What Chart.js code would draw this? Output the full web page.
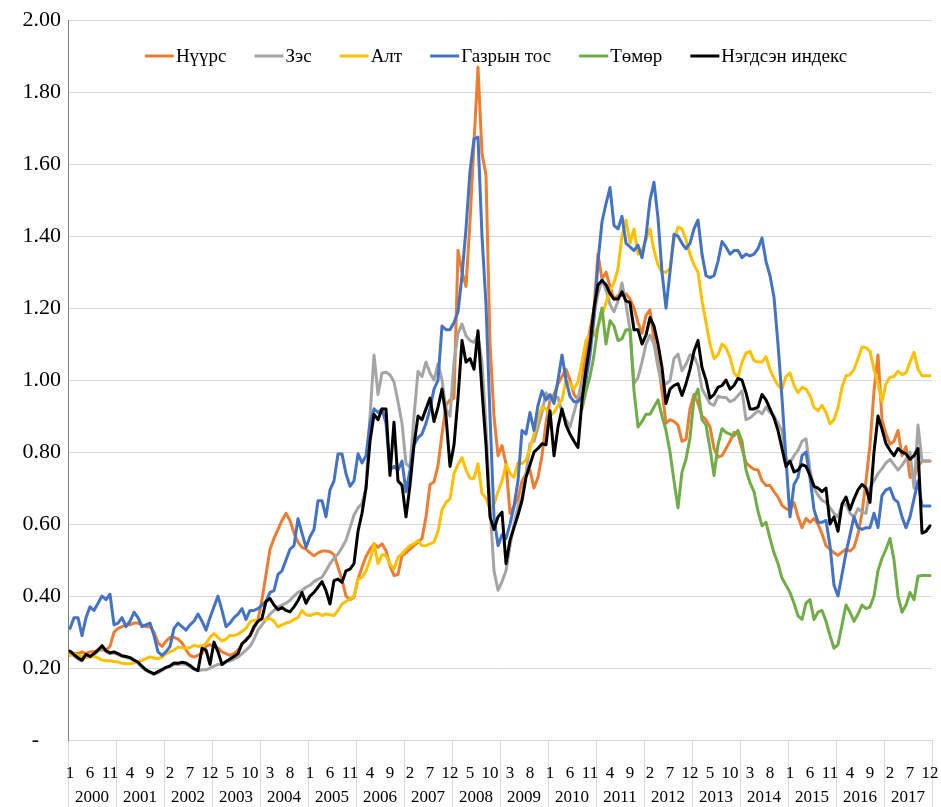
<!DOCTYPE html>
<html>
<head>
<meta charset="utf-8">
<script src="https://cdn.jsdelivr.net/npm/chart.js@4.4.1/dist/chart.umd.min.js"></script>
<style>
  html, body { margin: 0; padding: 0; background: #fff; }
  #wrap { width: 941px; height: 807px; position: relative; }
</style>
</head>
<body>
<div id="wrap"><canvas id="chart"></canvas></div>
<script>
// monthly price indices, Jan 2000 - Dec 2017
const years = ['2000', '2001', '2002', '2003', '2004', '2005', '2006', '2007', '2008',
  '2009', '2010', '2011', '2012', '2013', '2014', '2015', '2016', '2017'];
const monthNums = [1, 2, 3, 4, 5, 6, 7, 8, 9, 10, 11, 12];
const yTicks = [0, 0.2, 0.4, 0.6, 0.8, 1.0, 1.2, 1.4, 1.6, 1.8, 2.0];

const coal = [
  0.245, 0.24, 0.24, 0.245, 0.24, 0.245, 0.245, 0.25, 0.25, 0.25, 0.26, 0.30,
  0.31, 0.315, 0.32, 0.32, 0.325, 0.325, 0.32, 0.315, 0.315, 0.30, 0.27, 0.26,
  0.275, 0.285, 0.285, 0.28, 0.27, 0.25, 0.235, 0.23, 0.235, 0.24, 0.26, 0.265,
  0.26, 0.255, 0.245, 0.24, 0.235, 0.24, 0.25, 0.265, 0.28, 0.29, 0.31, 0.335,
  0.39, 0.46, 0.53, 0.56, 0.585, 0.61, 0.63, 0.61, 0.575, 0.55, 0.535, 0.53,
  0.52, 0.512, 0.52, 0.525, 0.525, 0.523, 0.515, 0.48, 0.445, 0.40, 0.39, 0.397,
  0.447, 0.48, 0.51, 0.53, 0.545, 0.535, 0.545, 0.526, 0.484, 0.457, 0.46, 0.512,
  0.52, 0.53, 0.54, 0.55, 0.56, 0.62, 0.71, 0.717, 0.763, 0.85, 0.93, 0.945,
  0.95, 1.36, 1.30, 1.26, 1.44, 1.66, 1.87, 1.63, 1.57, 1.10, 0.90, 0.79,
  0.818, 0.767, 0.63, 0.65, 0.67, 0.72, 0.74, 0.75, 0.70, 0.73, 0.79, 0.88,
  0.945, 0.96, 0.99, 1.01, 1.03, 1.00, 0.96, 0.945, 1.00, 1.08, 1.14, 1.20,
  1.35, 1.28, 1.30, 1.26, 1.225, 1.235, 1.235, 1.24, 1.225, 1.20, 1.16, 1.13,
  1.18, 1.195, 1.11, 1.05, 0.97, 0.88, 0.89, 0.885, 0.875, 0.83, 0.835, 0.92,
  0.96, 0.935, 0.90, 0.89, 0.87, 0.81, 0.786, 0.79, 0.81, 0.83, 0.855, 0.85,
  0.81, 0.77, 0.76, 0.752, 0.75, 0.72, 0.707, 0.707, 0.69, 0.675, 0.652, 0.643,
  0.638, 0.66, 0.62, 0.59, 0.615, 0.605, 0.615, 0.60, 0.573, 0.54, 0.53, 0.52,
  0.513, 0.522, 0.53, 0.525, 0.535, 0.573, 0.63, 0.72, 0.82, 0.97, 1.07, 0.89,
  0.85, 0.822, 0.83, 0.86, 0.79, 0.815, 0.73, 0.73, 0.76, 0.775, 0.775, 0.775
];

const copper = [
  0.243, 0.233, 0.225, 0.22, 0.235, 0.23, 0.237, 0.247, 0.258, 0.245, 0.24, 0.242,
  0.237, 0.232, 0.23, 0.226, 0.22, 0.213, 0.202, 0.193, 0.187, 0.182, 0.187, 0.193,
  0.2, 0.204, 0.21, 0.21, 0.212, 0.21, 0.204, 0.196, 0.192, 0.195, 0.195, 0.20,
  0.205, 0.21, 0.21, 0.217, 0.22, 0.225, 0.23, 0.24, 0.25, 0.26, 0.28, 0.305,
  0.32, 0.335, 0.35, 0.36, 0.37, 0.375, 0.38, 0.388, 0.40, 0.41, 0.415, 0.425,
  0.43, 0.44, 0.447, 0.452, 0.47, 0.49, 0.505, 0.517, 0.535, 0.555, 0.59, 0.625,
  0.645, 0.657, 0.70, 0.90, 1.07, 0.96, 1.02, 1.022, 1.015, 0.995, 0.94, 0.88,
  0.768, 0.758, 0.90, 1.024, 1.01, 1.05, 1.02, 1.00, 1.045, 1.00, 0.92, 0.90,
  1.05, 1.13, 1.156, 1.123, 1.11, 1.105, 1.125, 1.05, 0.87, 0.65, 0.47, 0.416,
  0.44, 0.47, 0.54, 0.60, 0.65, 0.675, 0.74, 0.823, 0.83, 0.869, 0.91, 0.965,
  0.943, 0.95, 0.952, 0.91, 0.89, 0.87, 0.91, 0.95, 0.99, 1.03, 1.10, 1.18,
  1.24, 1.28, 1.25, 1.21, 1.19, 1.22, 1.27, 1.21, 1.14, 0.99, 1.007, 1.05,
  1.10, 1.125, 1.10, 1.035, 0.99, 0.99, 0.998, 1.06, 1.072, 1.026, 1.044, 1.07,
  1.065, 1.04, 0.975, 0.955, 0.935, 0.93, 0.955, 0.952, 0.952, 0.94, 0.945, 0.957,
  0.97, 0.89, 0.895, 0.905, 0.915, 0.906, 0.925, 0.91, 0.90, 0.88, 0.86, 0.78,
  0.77, 0.79, 0.805, 0.83, 0.837, 0.75, 0.70, 0.68, 0.666, 0.66, 0.645, 0.63,
  0.62, 0.652, 0.655, 0.63, 0.62, 0.643, 0.633, 0.63, 0.70, 0.72, 0.74, 0.754,
  0.77, 0.78, 0.765, 0.75, 0.763, 0.78, 0.80, 0.70, 0.875, 0.775, 0.775, 0.775
];

const gold = [
  0.235, 0.24, 0.235, 0.232, 0.229, 0.232, 0.232, 0.228, 0.222, 0.22, 0.22, 0.218,
  0.217, 0.213, 0.212, 0.212, 0.214, 0.217, 0.221, 0.226, 0.231, 0.228, 0.226, 0.23,
  0.24, 0.245, 0.25, 0.258, 0.256, 0.254, 0.257, 0.263, 0.26, 0.262, 0.268, 0.285,
  0.296, 0.285, 0.275, 0.28, 0.291, 0.29, 0.294, 0.302, 0.31, 0.328, 0.333, 0.333,
  0.335, 0.335, 0.338, 0.33, 0.314, 0.32, 0.325, 0.328, 0.335, 0.34, 0.36, 0.348,
  0.346, 0.35, 0.352, 0.346, 0.35, 0.348, 0.346, 0.36, 0.378, 0.385, 0.392, 0.40,
  0.447, 0.452, 0.47, 0.50, 0.545, 0.49, 0.515, 0.512, 0.489, 0.475, 0.508, 0.517,
  0.53, 0.54, 0.545, 0.554, 0.54, 0.54, 0.545, 0.55, 0.58, 0.64, 0.66, 0.67,
  0.74, 0.765, 0.785, 0.75, 0.727, 0.727, 0.768, 0.685, 0.672, 0.64, 0.655, 0.69,
  0.72, 0.765, 0.74, 0.73, 0.77, 0.768, 0.778, 0.81, 0.85, 0.895, 0.925, 0.92,
  0.90, 0.91, 0.93, 0.945, 1.00, 0.99, 0.975, 0.995, 1.05, 1.11, 1.128, 1.125,
  1.15, 1.18, 1.215, 1.25, 1.27, 1.31, 1.40, 1.445, 1.38, 1.42, 1.35, 1.36,
  1.39, 1.42, 1.36, 1.32, 1.30, 1.30, 1.31, 1.39, 1.425, 1.42, 1.39, 1.35,
  1.32, 1.30, 1.22, 1.16, 1.10, 1.06, 1.07, 1.10, 1.09, 1.063, 1.02, 1.008,
  1.05, 1.075, 1.08, 1.054, 1.05, 1.05, 1.065, 1.03, 1.005, 0.985, 0.975, 1.01,
  1.02, 0.985, 0.965, 0.98, 0.975, 0.957, 0.924, 0.915, 0.93, 0.91, 0.878, 0.89,
  0.924, 0.98, 1.012, 1.015, 1.03, 1.06, 1.092, 1.09, 1.08, 1.03, 0.99, 0.94,
  0.99, 1.008, 1.01, 1.025, 1.015, 1.02, 1.05, 1.077, 1.03, 1.012, 1.012, 1.012
];

const oil = [
  0.31, 0.34, 0.34, 0.29, 0.34, 0.37, 0.36, 0.38, 0.40, 0.39, 0.405, 0.32,
  0.325, 0.34, 0.315, 0.33, 0.355, 0.34, 0.315, 0.32, 0.325, 0.29, 0.245, 0.235,
  0.245, 0.26, 0.31, 0.325, 0.315, 0.305, 0.32, 0.33, 0.35, 0.33, 0.305, 0.34,
  0.37, 0.40, 0.36, 0.315, 0.325, 0.34, 0.35, 0.365, 0.335, 0.36, 0.36, 0.365,
  0.375, 0.385, 0.41, 0.415, 0.46, 0.47, 0.50, 0.53, 0.54, 0.615, 0.575, 0.535,
  0.565, 0.585, 0.665, 0.665, 0.62, 0.695, 0.72, 0.795, 0.795, 0.74, 0.705, 0.72,
  0.795, 0.77, 0.79, 0.88, 0.92, 0.91, 0.92, 0.88, 0.75, 0.76, 0.75, 0.775,
  0.69, 0.75, 0.82, 0.84, 0.85, 0.88, 0.92, 0.975, 1.00, 1.15, 1.14, 1.14,
  1.16, 1.19, 1.29, 1.42, 1.58, 1.67, 1.675, 1.40, 1.21, 0.90, 0.62, 0.54,
  0.57, 0.56, 0.60, 0.65, 0.72, 0.86, 0.85, 0.91, 0.86, 0.93, 0.97, 0.945,
  0.96, 0.935, 1.00, 1.07, 1.00, 0.955, 0.94, 0.94, 0.955, 1.00, 1.07, 1.17,
  1.33, 1.44, 1.49, 1.535, 1.43, 1.42, 1.455, 1.38, 1.37, 1.36, 1.375, 1.34,
  1.40, 1.50, 1.55, 1.45, 1.30, 1.20, 1.30, 1.405, 1.40, 1.38, 1.365, 1.38,
  1.42, 1.445, 1.35, 1.29, 1.285, 1.29, 1.33, 1.385, 1.37, 1.35, 1.36, 1.36,
  1.34, 1.35, 1.345, 1.35, 1.365, 1.395, 1.33, 1.29, 1.23, 1.10, 0.95, 0.78,
  0.62, 0.71, 0.73, 0.79, 0.80, 0.73, 0.64, 0.605, 0.605, 0.61, 0.54, 0.43,
  0.40, 0.46, 0.52, 0.57, 0.62, 0.59, 0.585, 0.59, 0.59, 0.63, 0.59, 0.68,
  0.695, 0.70, 0.67, 0.66, 0.62, 0.59, 0.62, 0.67, 0.72, 0.65, 0.65, 0.65
];

const iron = [
  null, null, null, null, null, null, null, null, null, null, null, null,
  null, null, null, null, null, null, null, null, null, null, null, null,
  null, null, null, null, null, null, null, null, null, null, null, null,
  null, null, null, null, null, null, null, null, null, null, null, null,
  null, null, null, null, null, null, null, null, null, null, null, null,
  null, null, null, null, null, null, null, null, null, null, null, null,
  null, null, null, null, null, null, null, null, null, null, null, null,
  null, null, null, null, null, null, null, null, null, null, null, null,
  null, null, null, null, null, null, null, null, null, null, null, null,
  null, null, null, null, null, null, null, null, null, null, null, null,
  null, null, null, null, null, null, null, null, 0.92, 0.97, 1.01, 1.07,
  1.15, 1.20, 1.10, 1.165, 1.15, 1.11, 1.115, 1.14, 1.14, 0.97, 0.87, 0.885,
  0.905, 0.905, 0.925, 0.945, 0.90, 0.86, 0.80, 0.72, 0.645, 0.745, 0.78, 0.84,
  0.95, 0.975, 0.89, 0.875, 0.81, 0.735, 0.82, 0.865, 0.855, 0.85, 0.845, 0.86,
  0.83, 0.75, 0.715, 0.69, 0.635, 0.595, 0.605, 0.56, 0.52, 0.49, 0.45, 0.43,
  0.41, 0.38, 0.345, 0.335, 0.38, 0.39, 0.335, 0.355, 0.36, 0.33, 0.29, 0.255,
  0.265, 0.32, 0.375, 0.355, 0.33, 0.35, 0.375, 0.365, 0.37, 0.40, 0.47, 0.505,
  0.53, 0.56, 0.50, 0.40, 0.355, 0.375, 0.41, 0.39, 0.455, 0.457, 0.457, 0.457
];

const composite = [
  0.247, 0.237, 0.228, 0.222, 0.238, 0.232, 0.24, 0.25, 0.262, 0.248, 0.242, 0.245,
  0.24, 0.234, 0.232, 0.229, 0.222, 0.216, 0.205, 0.195, 0.189, 0.184, 0.19, 0.196,
  0.202, 0.206, 0.214, 0.213, 0.216, 0.214, 0.207, 0.198, 0.193, 0.255, 0.25, 0.21,
  0.272, 0.245, 0.21, 0.218, 0.225, 0.232, 0.24, 0.268, 0.277, 0.29, 0.315, 0.33,
  0.338, 0.385, 0.393, 0.375, 0.362, 0.368, 0.36, 0.356, 0.37, 0.387, 0.41, 0.38,
  0.40, 0.41, 0.425, 0.44, 0.415, 0.378, 0.443, 0.447, 0.438, 0.47, 0.475, 0.49,
  0.58, 0.63, 0.70, 0.83, 0.905, 0.89, 0.92, 0.92, 0.735, 0.883, 0.72, 0.708,
  0.62, 0.708, 0.82, 0.90, 0.89, 0.92, 0.95, 0.885, 0.925, 0.975, 0.90, 0.76,
  0.82, 0.95, 1.11, 1.05, 1.06, 1.03, 1.137, 0.97, 0.82, 0.62, 0.585, 0.62,
  0.633, 0.49, 0.555, 0.59, 0.625, 0.665, 0.73, 0.765, 0.80, 0.81, 0.823, 0.82,
  0.915, 0.79, 0.87, 0.92, 0.875, 0.85, 0.83, 0.813, 0.943, 1.03, 1.10, 1.20,
  1.265, 1.277, 1.265, 1.24, 1.225, 1.225, 1.245, 1.22, 1.215, 1.14, 1.14, 1.10,
  1.125, 1.174, 1.15, 1.10, 1.035, 0.935, 0.975, 0.985, 0.99, 0.957, 0.99, 1.03,
  1.08, 1.11, 1.035, 1.0, 0.95, 0.96, 0.98, 0.985, 1.0, 0.975, 0.985, 1.005,
  1.0, 0.965, 0.92, 0.92, 0.925, 0.96, 0.945, 0.92, 0.895, 0.86, 0.81, 0.76,
  0.775, 0.745, 0.75, 0.765, 0.76, 0.735, 0.705, 0.70, 0.69, 0.70, 0.60, 0.62,
  0.58, 0.655, 0.675, 0.64, 0.67, 0.695, 0.71, 0.70, 0.66, 0.80, 0.90, 0.864,
  0.823, 0.805, 0.79, 0.81, 0.80, 0.795, 0.78, 0.79, 0.81, 0.575, 0.58, 0.595
];

const labels = years.flatMap(y => monthNums.map(m => y + '-' + m));
const gridGray = '#d9d9d9';

Chart.defaults.font.family = '"Liberation Serif", "Times New Roman", serif';
Chart.defaults.font.size = 17;
Chart.defaults.color = '#000';

const series = (label, data, color, order) => ({
  label, data,
  borderColor: color, backgroundColor: color,
  borderWidth: 3, pointRadius: 0, pointHoverRadius: 0,
  tension: 0, borderJoinStyle: 'round', borderCapStyle: 'round',
  fill: false, spanGaps: false, order
});

// legend sits inside the plot, so draw it here instead of the built-in one
const topLegend = {
  id: 'topLegend',
  afterDraw(chart) {
    const { ctx, chartArea } = chart;
    const sets = chart.data.datasets;
    ctx.save();
    ctx.font = '19px "Liberation Serif", "Times New Roman", serif';
    ctx.textBaseline = 'middle';
    const lineW = 29, gap = 2, space = 28, y = 56;
    const widths = sets.map(ds => ctx.measureText(ds.label).width);
    const total = widths.reduce((a, w) => a + lineW + gap + w, 0) + space * (sets.length - 1);
    let x = (chartArea.left + chartArea.right) / 2 - 4 - total / 2;
    sets.forEach((ds, i) => {
      ctx.strokeStyle = ds.borderColor;
      ctx.lineWidth = 3;
      ctx.beginPath();
      ctx.moveTo(x, y);
      ctx.lineTo(x + lineW, y);
      ctx.stroke();
      ctx.fillStyle = '#000';
      ctx.fillText(ds.label, x + lineW + gap, y + 1);
      x += lineW + gap + widths[i] + space;
    });
    ctx.restore();
  }
};

new Chart(document.getElementById('chart'), {
  type: 'line',
  data: {
    labels: labels,
    datasets: [
      series('Нүүрс', coal, '#ED7D31', 6),
      series('Зэс', copper, '#A5A5A5', 5),
      series('Алт', gold, '#FFC000', 4),
      series('Газрын тос', oil, '#4472C4', 3),
      series('Төмөр', iron, '#70AD47', 2),
      series('Нэгдсэн индекс', composite, '#000000', 1)
    ]
  },
  options: {
    responsive: true,
    maintainAspectRatio: false,
    devicePixelRatio: 1,
    animation: false,
    events: [],
    layout: { padding: { top: 19, right: 9, left: 0, bottom: 0 } },
    plugins: {
      legend: { display: false },
      tooltip: { enabled: false }
    },
    scales: {
      x: {
        type: 'category',
        offset: true,
        weight: 0,
        grid: {
          offset: true,
          drawOnChartArea: false,
          drawTicks: true,
          tickLength: 44,
          color: c => (c.index === undefined || c.index % 12 === 0) ? gridGray : 'rgba(0,0,0,0)'
        },
        border: { display: true, color: gridGray },
        ticks: {
          autoSkip: false, maxRotation: 0, minRotation: 0, padding: -21,
          callback: (v, i) => i % 5 === 0 ? String(monthNums[i % 12]) : ''
        },
        afterFit: s => { s.height = 44; }
      },
      x2: {
        type: 'category',
        labels: years,
        position: 'bottom',
        offset: true,
        weight: 1,
        grid: { offset: true, drawOnChartArea: false, drawTicks: true, tickLength: 23, color: gridGray },
        border: { display: false },
        ticks: { autoSkip: false, maxRotation: 0, minRotation: 0, padding: -20 },
        afterFit: s => { s.height = 23; }
      },
      y: {
        min: yTicks[0],
        max: yTicks[yTicks.length - 1],
        afterBuildTicks: s => { s.ticks = yTicks.map(v => ({ value: v })); },
        ticks: {
          padding: 7,
          font: { size: 22 },
          callback: v => v === 0 ? '-    ' : v.toFixed(2)
        },
        grid: { color: gridGray, drawTicks: false },
        border: { color: '#7f7f7f' },
        afterFit: s => { s.width = 68; }
      }
    }
  },
  plugins: [topLegend]
});
</script>
</body>
</html>
